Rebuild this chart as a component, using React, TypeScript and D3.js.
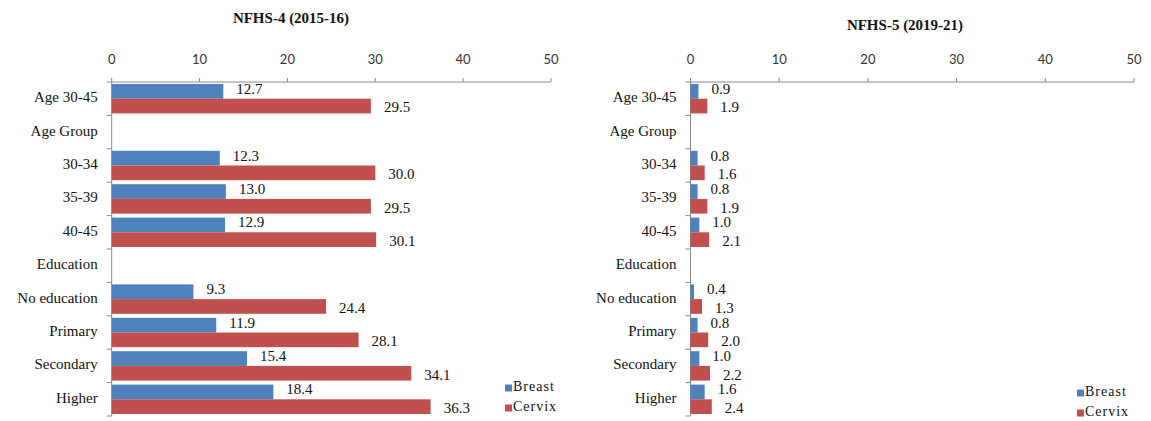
import React from "react";
import * as d3 from "d3";

const categories = ["Age 30-45", "Age Group", "30-34", "35-39", "40-45", "Education", "No education", "Primary", "Secondary", "Higher"];
const nfhs4Breast: (number | null)[] = [12.7, null, 12.3, 13.0, 12.9, null, 9.3, 11.9, 15.4, 18.4];
const nfhs4Cervix: (number | null)[] = [29.5, null, 30.0, 29.5, 30.1, null, 24.4, 28.1, 34.1, 36.3];
const nfhs5Breast: (number | null)[] = [0.9, null, 0.8, 0.8, 1.0, null, 0.4, 0.8, 1.0, 1.6];
const nfhs5Cervix: (number | null)[] = [1.9, null, 1.6, 1.9, 2.1, null, 1.3, 2.0, 2.2, 2.4];
const seriesNames = ["Breast", "Cervix"];
const xTicks = [0, 10, 20, 30, 40, 50];
const titles = ["NFHS-4 (2015-16)", "NFHS-5 (2019-21)"];

const COLORS = ["#4F81BD", "#C0504D"];
const AXIS = "#8a8a8a";
const SERIF = "'Liberation Serif', 'Times New Roman', serif";
const SANS = "Lato, 'Liberation Sans', sans-serif";

type PanelProps = {
  title: string;
  breast: (number | null)[];
  cervix: (number | null)[];
  x0: number;
  x1: number;
  titleX: number;
  titleY: number;
  legendX: number;
  legendY: number;
};

function Panel({ title, breast, cervix, x0, x1, titleX, titleY, legendX, legendY }: PanelProps) {
  const top = 82;
  const bottom = 416;
  const x = d3.scaleLinear().domain([0, 50]).range([x0, x1]);
  const y = d3.scaleBand<string>().domain(categories).range([top, bottom]).paddingInner(0.12).paddingOuter(0.06);
  const inner = d3.scaleBand<string>().domain(seriesNames).range([0, y.bandwidth()]);
  const step = (bottom - top) / categories.length;
  const boundaries = d3.range(categories.length + 1).map((i) => top + i * step);
  const series = [breast, cervix];

  return (
    <g>
      <text x={titleX} y={titleY} textAnchor="middle" dominantBaseline="middle" style={{ fontFamily: SERIF }} fontWeight="bold" fontSize={15} fill="#111">
        {title}
      </text>
      <line x1={x0} x2={x1} y1={top} y2={top} stroke={AXIS} strokeWidth={1} />
      {xTicks.map((t) => (
        <g key={t}>
          <line x1={x(t)} x2={x(t)} y1={top - 4} y2={top} stroke={AXIS} />
          <text x={x(t)} y={61} textAnchor="middle" dominantBaseline="middle" style={{ fontFamily: SANS }} fontSize={13} fill="#333">
            {t}
          </text>
        </g>
      ))}
      <line x1={x0} x2={x0} y1={top} y2={bottom} stroke={AXIS} />
      {boundaries.map((b, i) => (
        <line key={i} x1={x0 - 5} x2={x0} y1={b} y2={b} stroke={AXIS} />
      ))}
      {categories.map((c, i) => (
        <text key={c} x={x0 - 14} y={top + (i + 0.5) * step} textAnchor="end" dominantBaseline="middle" style={{ fontFamily: SERIF }} fontSize={15} fill="#111">
          {c}
        </text>
      ))}
      {categories.map((c, i) =>
        series.map((s, si) => {
          const v = s[i];
          if (v == null) return null;
          const by = (y(c) as number) + (inner(seriesNames[si]) as number);
          const bh = inner.bandwidth();
          return (
            <g key={c + si}>
              <rect x={x(0)} y={by} width={x(v) - x(0)} height={bh} fill={COLORS[si]} />
              <text
                x={x(v) + 13}
                y={by + bh / 2 + (si === 0 ? -1 : 3)}
                dominantBaseline="middle"
                style={{ fontFamily: SERIF }}
                fontSize={15}
                fill="#111"
              >
                {v.toFixed(1)}
              </text>
            </g>
          );
        })
      )}
      {seriesNames.map((n, i) => (
        <g key={n}>
          <rect x={legendX} y={legendY + i * 20 - 3.5} width={7} height={7} fill={COLORS[i]} />
          <text x={legendX + 8} y={legendY + i * 20} dominantBaseline="middle" style={{ fontFamily: SERIF }} fontSize={14} letterSpacing={1} fill="#111">
            {n}
          </text>
        </g>
      ))}
    </g>
  );
}

export default function App() {
  return (
    <svg width={1151} height={421} style={{ position: "absolute", left: 0, top: 0, background: "#fff" }}>
      <rect width={1151} height={421} fill="#fff" />
      <Panel title={titles[0]} breast={nfhs4Breast} cervix={nfhs4Cervix} x0={111.7} x1={551} titleX={291} titleY={20} legendX={505} legendY={388} />
      <Panel title={titles[1]} breast={nfhs5Breast} cervix={nfhs5Cervix} x0={690.5} x1={1134} titleX={905} titleY={27} legendX={1077} legendY={393} />
    </svg>
  );
}
